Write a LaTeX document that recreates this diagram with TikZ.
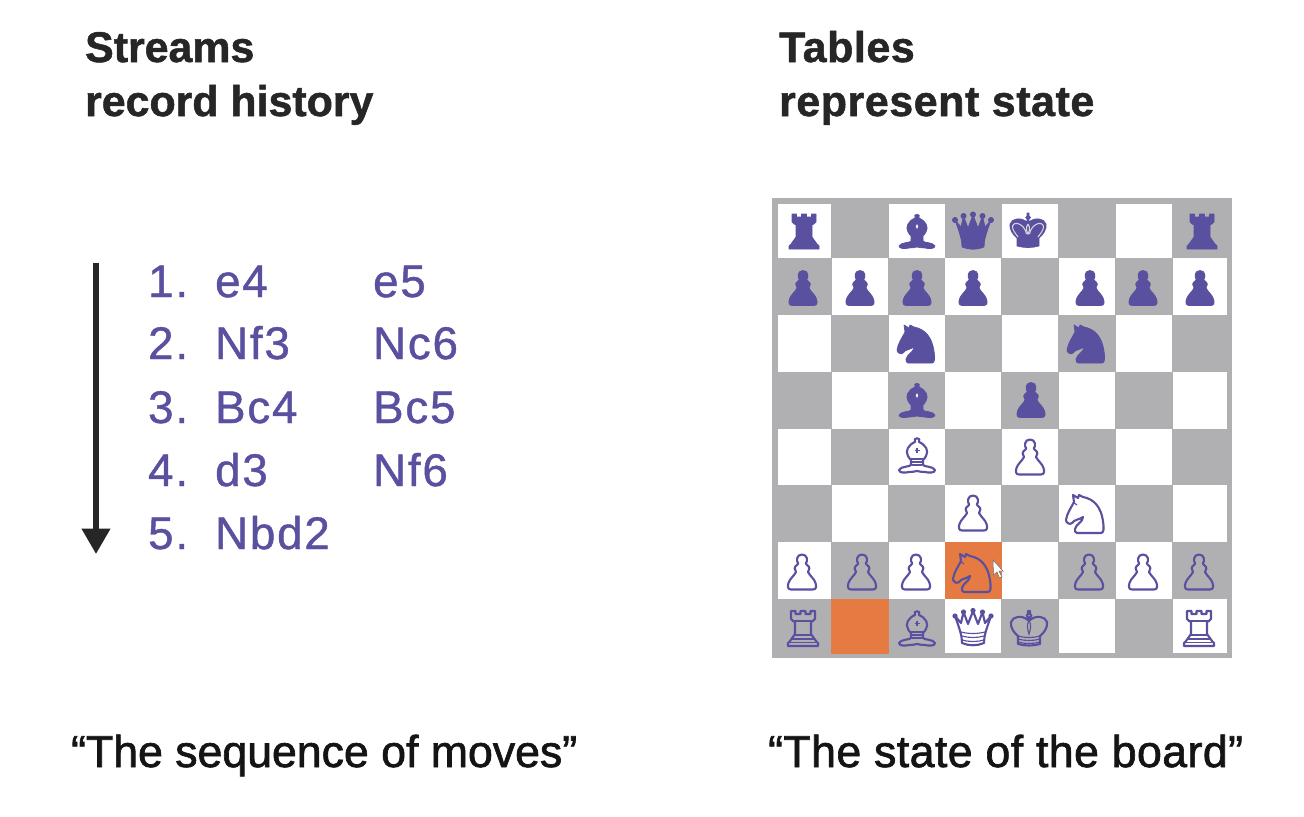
\documentclass[tikz,border=0pt]{standalone}
\usepackage{fontspec}
\setmainfont{Liberation Sans}
\newfontfamily\movefont{Liberation Sans}[LetterSpace=4,FakeBold=1]
\newfontfamily\quotefont{Liberation Sans}[FakeBold=1.5]
\newfontfamily\quotewide{Liberation Sans}[FakeBold=1.5,LetterSpace=1]
\newfontfamily\headfont{Liberation Sans Bold}[FakeBold=1.2]
\newfontfamily\headwide{Liberation Sans Bold}[FakeBold=1.2,LetterSpace=1.4]
\usetikzlibrary{arrows.meta}
\definecolor{pc}{HTML}{5A50A0}
\definecolor{grayc}{HTML}{B0B0B2}
\definecolor{orangec}{HTML}{E67A43}
\definecolor{ink}{HTML}{262626}
\tikzset{
  x=0.05cm,y=-0.05cm,
  head/.style={anchor=base west,inner sep=0pt,text=ink,font=\fontsize{61}{62}\selectfont\headfont},
  headw/.style={anchor=base west,inner sep=0pt,text=ink,font=\fontsize{61}{62}\selectfont\headwide},
  movetext/.style={anchor=base west,inner sep=0pt,text=pc,font=\fontsize{65}{65}\selectfont\movefont},
  quote/.style={anchor=base west,inner sep=0pt,text=black!92,font=\fontsize{63.5}{64}\selectfont\quotefont},
  quotew/.style={anchor=base west,inner sep=0pt,text=black!92,font=\fontsize{63.5}{64}\selectfont\quotewide},
  dark/.style={fill=pc,draw=pc,line width=1pt,line join=round},
  lite/.style={draw=pc,line width=3pt,line join=round},
  detail/.style={draw=pc,line width=1.6pt},
  hole/.style={draw=grayc!50!white,line width=1.5pt}
}
\newcommand{\pawnP}{(-11,17.5) -- (11,17.5) .. controls (14.5,17.5) and (14.5,14) .. (13.5,11) .. controls (12.5,7) and (8,4) .. (6,0) .. controls (8,-2) and (8,-5.5) .. (5,-7) -- (3.8,-8.5) .. controls (6,-11) and (5.5,-17.5) .. (0,-17.5) .. controls (-5.5,-17.5) and (-6,-11) .. (-3.8,-8.5) -- (-5,-7) .. controls (-8,-5.5) and (-8,-2) .. (-6,0) .. controls (-8,4) and (-12.5,7) .. (-13.5,11) .. controls (-14.5,14) and (-14.5,17.5) .. (-11,17.5) -- cycle}
\newcommand{\knightP}{(-9,20) -- (15,20) .. controls (18,20) and (18,15) .. (17,8) .. controls (15,-6) and (8,-14) .. (-3,-16) -- (-7,-18) -- (-8,-15) -- (-13,-18) -- (-12,-11) .. controls (-15,-5) and (-19,0) .. (-20,7) .. controls (-20,10) and (-16,12) .. (-14,10) .. controls (-11,6) and (-7,7) .. (-3,4) .. controls (-3,9) and (-10,11) .. (-11,16) .. controls (-11,18) and (-11,20) .. (-9,20) -- cycle}
\newcommand{\rookP}{(-12,-17) -- (-12,-9) .. controls (-11,-7) and (-9,-7) .. (-8,-6) -- (-8,6) .. controls (-9,9) and (-12,10) .. (-13,13) -- (-15,15) -- (-15,18) -- (15,18) -- (15,15) -- (13,13) .. controls (12,10) and (9,9) .. (8,6) -- (8,-6) .. controls (9,-7) and (11,-7) .. (12,-9) -- (12,-17) -- (7.5,-17) -- (7.5,-14) -- (2.5,-14) -- (2.5,-17) -- (-2.5,-17) -- (-2.5,-14) -- (-7.5,-14) -- (-7.5,-17) -- cycle}
\newcommand{\bishopP}{(-2,-13) .. controls (-9,-10) and (-12,-4) .. (-9,1) .. controls (-8,3) and (-7,4) .. (-6,5) -- (-6,10) .. controls (-7,12) and (-16,11) .. (-18,15) .. controls (-18,18) and (-12,18) .. (-8,17) .. controls (-5,17) and (-2,16.5) .. (0,16) .. controls (2,16.5) and (5,17) .. (8,17) .. controls (12,18) and (18,18) .. (18,15) .. controls (16,11) and (7,12) .. (6,10) -- (6,5) .. controls (7,4) and (8,3) .. (9,1) .. controls (12,-4) and (9,-10) .. (2,-13) .. controls (5,-18) and (-5,-18) .. (-2,-13) -- cycle}
\newcommand{\queenP}{(-11,16) .. controls (-4,19) and (4,19) .. (11,16) .. controls (11,9) and (13,3) .. (18,-11) -- (12,-4) -- (9.5,-15) -- (5,-3) -- (0,-16) -- (-5,-3) -- (-9.5,-15) -- (-12,-4) -- (-18,-11) .. controls (-13,3) and (-11,9) .. (-11,16) -- cycle}
\newcommand{\queenB}{(-18,-11) circle[radius=2.6] (-9.5,-15) circle[radius=2.6] (0,-16.5) circle[radius=2.6] (9.5,-15) circle[radius=2.6] (18,-11) circle[radius=2.6]}
\newcommand{\kingP}{(-11,17) .. controls (-4,19) and (4,19) .. (11,17) -- (11,9) .. controls (15,6) and (19,0) .. (18,-5) .. controls (16,-11) and (7,-12) .. (1,-7) -- (1,-10) .. controls (3,-10) and (3,-13) .. (1,-13) -- (1,-16) -- (-1,-16) -- (-1,-13) .. controls (-3,-13) and (-3,-10) .. (-1,-10) -- (-1,-7) .. controls (-7,-12) and (-16,-11) .. (-18,-5) .. controls (-19,0) and (-15,6) .. (-11,9) -- cycle}
% dark pieces
\newcommand{\dPawn}[2]{\path[dark,shift={(#1,#2)}] \pawnP;}
\newcommand{\dKnight}[2]{\path[dark,shift={(#1,#2)}] \knightP;}
\newcommand{\dRook}[2]{\path[dark,shift={(#1,#2)}] \rookP;}
\newcommand{\dBishop}[2]{\path[dark,shift={(#1,#2)}] \bishopP; \fill[white,shift={(#1,#2)}] (0,-7) -- (1.2,-4.5) -- (0,-2) -- (-1.2,-4.5) -- cycle;}
\newcommand{\dQueen}[2]{\path[dark,shift={(#1,#2)}] \queenP \queenB;}
\newcommand{\dKing}[2]{\path[dark,shift={(#1,#2)}] \kingP;
  \draw[hole,shift={(#1,#2)}] (-1.5,5) .. controls (-3,-4) and (-13,-9) .. (-15.5,-3) .. controls (-16,1) and (-12,5) .. (-10,8);
  \draw[hole,shift={(#1,#2)}] (1.5,5) .. controls (3,-4) and (13,-9) .. (15.5,-3) .. controls (16,1) and (12,5) .. (10,8);
  \draw[hole,shift={(#1,#2)}] (0,-5) .. controls (-3,-1) and (-1,3) .. (0,5) .. controls (1,3) and (3,-1) .. (0,-5);}
% light pieces
\newcommand{\lPawn}[2]{\path[lite,shift={(#1,#2)}] \pawnP;}
\newcommand{\lKnight}[2]{\begin{scope}[shift={(#1,#2)}]\path[lite] \knightP; \draw[detail] (-13,-11) -- (-9,-8);\end{scope}}
\newcommand{\lRook}[2]{\begin{scope}[shift={(#1,#2)}]\path[lite] \rookP;
  \draw[detail] (-11,-7) -- (11,-7) (-9,7) -- (9,7) (-11,11) -- (11,11) (-13,14.5) -- (13,14.5);\end{scope}}
\newcommand{\lBishop}[2]{\begin{scope}[shift={(#1,#2)}]\path[lite] \bishopP;
  \draw[detail] (-6,4) -- (6,4) (-5,7) -- (5,7) (-5,10) -- (5,10) (-2.5,-4.5) -- (2.5,-4.5) (0,-7) -- (0,-2);\end{scope}}
\newcommand{\lQueen}[2]{\begin{scope}[shift={(#1,#2)}]\path[lite] \queenP;
  \fill[pc] \queenB;
  \draw[detail] (-12,5) .. controls (-4,7) and (4,7) .. (12,5) (-11,9) .. controls (-4,11) and (4,11) .. (11,9) (-11,13) .. controls (-4,15) and (4,15) .. (11,13);\end{scope}}
\newcommand{\lKing}[2]{\begin{scope}[shift={(#1,#2)}]\path[lite] \kingP;
  \draw[detail] (-11,9) .. controls (-4,11) and (4,11) .. (11,9) (-11,12) .. controls (-4,14) and (4,14) .. (11,12) (-11,15) .. controls (-4,17) and (4,17) .. (11,15) (0,-7) .. controls (-3,-2) and (-1,4) .. (0,7) .. controls (1,4) and (3,-2) .. (0,-7);\end{scope}}
\begin{document}
\begin{tikzpicture}
\useasboundingbox (0,0) rectangle (1304,816);
\fill[white] (0,0) rectangle (1304,816);
% headings
\node[head] (h1) at (85,62) {Streams};
\node[head] (h2) at (85,116) {record history};
\node[headw] (h3) at (779,62) {Tables};
\node[headw] (h4) at (779,116) {represent state};
% arrow
\coordinate (arrowtop) at (96,263);
\coordinate (arrowend) at (96,554);
\draw[line width=8pt,draw=ink,-{Triangle[width=39pt,length=36pt,fill=ink]}] (arrowtop) -- (arrowend);
% moves
\foreach \ya/\n/\w/\b in {297/1./e4/e5,359/2./Nf3/Nc6,423/3./Bc4/Bc5,486/4./d3/Nf6,549/5./Nbd2/{}}{
  \node[movetext] at (148,\ya) {\n};
  \node[movetext] at (215,\ya) {\w};
  \node[movetext] at (373,\ya) {\b};
}
% board
\fill[grayc] (772,198) rectangle (1232,658);
\foreach \ya/\yb in {204/258,315/372,429/485,542/599}{
  \foreach \xa/\xb in {778/831,889/945,1002/1058,1116/1172}{
    \fill[white] (\xa,\ya) rectangle (\xb,\yb);}
}
\foreach \ya/\yb in {258/315,372/429,485/542,599/653}{
  \foreach \xa/\xb in {832/888,945/1001,1059/1115,1173/1227}{
    \fill[white] (\xa,\ya) rectangle (\xb,\yb);}
}
\fill[orangec] (945,542) rectangle (1002,599);
\fill[orangec] (831,599) rectangle (889,654);
% black
\dRook{804}{231} \dBishop{917}{231} \dQueen{973}{231} \dKing{1028}{229} \dRook{1202}{231}
\dPawn{803}{288} \dPawn{860}{288} \dPawn{917}{288} \dPawn{973}{288} \dPawn{1090}{288} \dPawn{1143}{288} \dPawn{1200}{288}
\dKnight{917}{343} \dKnight{1087}{343}
\dBishop{917}{400} \dPawn{1031}{400}
% white
\lBishop{917}{455} \lPawn{1030}{457} \lPawn{973}{513} \lKnight{1086}{513}
\lPawn{802}{572} \lPawn{862}{572} \lPawn{916}{572} \lKnight{973}{572} \lPawn{1089}{572} \lPawn{1143}{572} \lPawn{1199}{572}
\lRook{803}{628} \lBishop{917}{628} \lQueen{973}{627} \lKing{1029}{627} \lRook{1199}{628}
% cursor
\filldraw[fill=white,draw=black!60,line width=0.7pt] (993,560) -- (1003,571) -- (999,571) -- (1002,577) -- (999.5,578) -- (997,572) -- (993.5,575) -- cycle;
% quotes
\node[quote] (q1) at (71,767) {“The sequence of moves”};
\node[quotew] (q2) at (768,767) {“The state of the board”};
\end{tikzpicture}
\end{document}
